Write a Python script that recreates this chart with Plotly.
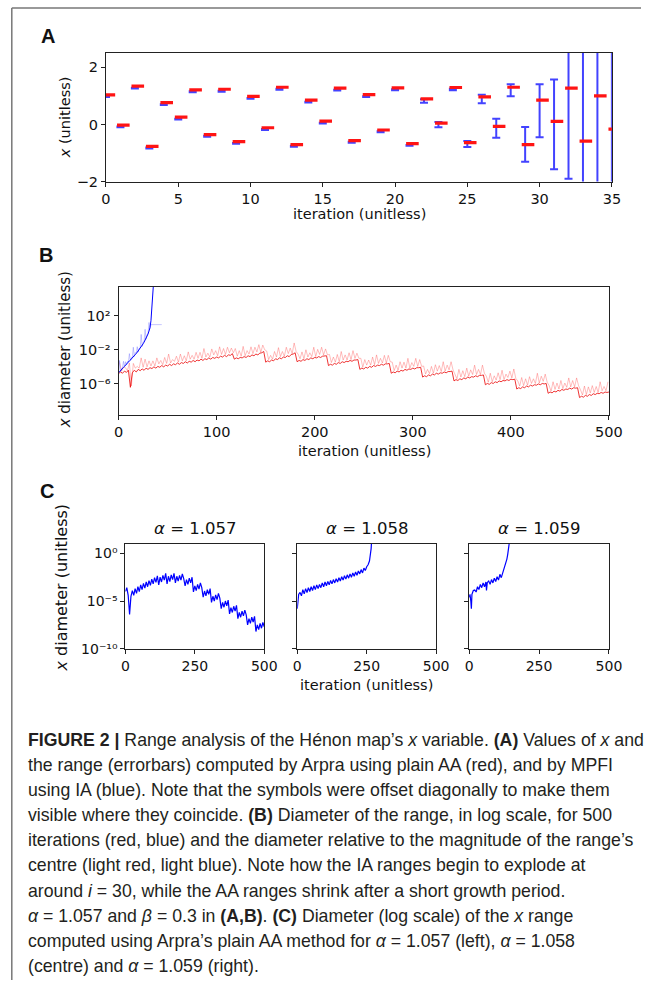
import plotly.graph_objects as go

W, H = 655, 988

# ---------------- data ----------------
# Panel A: x value per iteration (AA, red) and IA bounds (blue)
A_ITER = list(range(36))
A_AA_X = [0.97, -0.09, 1.28, -0.83, 0.70, 0.19, 1.15, -0.42, 1.17, -0.67, 0.92, -0.18, 1.24, -0.77,
          0.79, 0.05, 1.21, -0.63, 0.98, -0.26, 1.22, -0.74, 0.83, -0.02, 1.23, -0.70, 0.90, -0.13,
          1.24, -0.77, 0.79, 0.04, 1.21, -0.65, 0.94, -0.23]
A_IA_LO = [0.96, -0.10, 1.26, -0.84, 0.68, 0.17, 1.13, -0.43, 1.15, -0.68, 0.90, -0.19, 1.22, -0.78,
           0.77, 0.03, 1.19, -0.64, 0.96, -0.27, 1.20, -0.75, 0.76, -0.10, 1.20, -0.79, 0.74, -0.47,
           0.99, -1.31, -0.45, -1.57, -1.90, -20.0, -20.0, -20.0]
A_IA_HI = [0.98, -0.07, 1.29, -0.81, 0.71, 0.20, 1.16, -0.40, 1.18, -0.65, 0.93, -0.16, 1.25, -0.75,
           0.80, 0.06, 1.22, -0.61, 0.99, -0.24, 1.23, -0.72, 0.88, 0.09, 1.25, -0.58, 1.04, 0.20,
           1.41, -0.09, 1.41, 1.58, 6.0, 20.0, 20.0, 20.0]
A_XTICKS = [0, 5, 10, 15, 20, 25, 30, 35]
A_YTICKS = [-2, 0, 2]
A_YTICKTEXT = ["\u22122", "0", "2"]

# Panel B: log10 of range diameter
B_AA_ITER = list(range(0, 501, 2))
B_AA_LOG = [
    -4.8, -4.6, -4.75, -4.5, -4.65, -4.4, -6.4, -4.7, -4.4, -4.6,
    -4.3, -4.45, -4.25, -4.4, -4.15, -4.3, -4.1, -4.2, -4.0, -4.15,
    -3.95, -4.05, -3.85, -4.0, -3.8, -3.9, -3.7, -3.85, -3.65, -3.75,
    -3.55, -3.7, -3.5, -3.6, -3.4, -3.55, -3.35, -3.45, -3.25, -3.4,
    -3.2, -3.3, -3.1, -3.25, -3.05, -3.15, -2.95, -3.1, -2.9, -3.0,
    -2.85, -2.95, -2.75, -2.85, -2.65, -2.8, -2.6, -2.65, -2.45,
    -3.1, -2.95, -3.05, -2.9, -2.95, -2.8, -2.9, -2.7, -2.8, -2.6, -2.7, -2.5, -2.6, -2.4, -2.35, -2.2,
    -3.45, -3.3, -3.4, -3.2, -3.3, -3.05, -3.15, -2.95, -3.05, -2.85, -2.9, -2.7, -2.8, -2.55, -2.5, -2.35,
    -3.4, -3.25, -3.35, -3.15, -3.25, -3.05, -3.15, -2.95, -3.05, -2.9, -2.95, -2.8, -2.9, -2.75, -2.75, -2.7,
    -3.85, -3.7, -3.8, -3.6, -3.7, -3.5, -3.6, -3.4, -3.5, -3.35, -3.4, -3.25, -3.35, -3.2, -3.2, -3.15,
    -4.3, -4.15, -4.25, -4.05, -4.15, -3.95, -4.05, -3.85, -3.95, -3.8, -3.85, -3.7, -3.8, -3.65, -3.65, -3.6,
    -4.75, -4.6, -4.7, -4.5, -4.6, -4.4, -4.5, -4.3, -4.4, -4.25, -4.3, -4.15, -4.25, -4.1, -4.1, -4.05,
    -5.2, -5.05, -5.15, -4.95, -5.05, -4.85, -4.95, -4.75, -4.85, -4.7, -4.75, -4.6, -4.7, -4.55, -4.55, -4.5,
    -5.65, -5.5, -5.6, -5.4, -5.5, -5.3, -5.4, -5.2, -5.3, -5.15, -5.2, -5.05, -5.15, -5.0, -5.0, -4.95,
    -6.1, -5.95, -6.05, -5.85, -5.95, -5.75, -5.85, -5.65, -5.75, -5.6, -5.65, -5.5, -5.6, -5.45, -5.5, -5.45,
    -6.6, -6.45, -6.55, -6.35, -6.45, -6.25, -6.35, -6.15, -6.25, -6.1, -6.15, -6.0, -6.1, -5.95, -6.0, -5.95,
    -7.1, -6.95, -7.05, -6.85, -6.95, -6.75, -6.85, -6.65, -6.75, -6.6, -6.65, -6.5, -6.6, -6.45, -6.5, -6.45,
    -7.6, -7.45, -7.55, -7.35, -7.45, -7.25, -7.35, -7.15, -7.25, -7.1, -7.15, -7.0, -7.1, -6.95, -7.0, -6.95,
]
# relative diameter (light red) at odd iterations: decades above the AA diameter
B_AA_REL_ITER = list(range(1, 500, 2))
B_AA_REL_OFFSET = [
    1.3, 0.1, 0.7, 0.4, 0.2, 0.85, 0.15, 1.1, 0.25, 0.65,
    0.15, 1.5, 0.2, 1.3, 0.15, 1.0, 0.2, 0.9, 0.1, 1.2,
    0.3, 0.8, 0.1, 1.1, 0.2, 1.4, 0.15, 0.7, 0.3, 1.0,
    0.1, 1.2, 0.2, 0.9, 0.1, 1.3, 0.25, 0.8, 0.15, 1.1,
    0.2, 1.0, 0.1, 1.4, 0.2, 0.75, 0.1, 1.2, 0.3, 0.9,
    0.15, 1.3, 0.2, 1.0, 0.1, 1.1, 0.25, 0.85, 0.1, 1.25,
    0.2, 0.95, 0.15, 1.35, 0.1, 0.8, 0.2, 1.15, 0.15, 1.0,
    0.25, 1.2, 0.1, 0.9, 0.2, 1.3, 0.15, 0.75, 0.1, 1.1,
    0.2, 1.4, 0.15, 0.85, 0.1, 1.2, 0.25, 1.0, 0.1, 1.3,
    0.15, 0.9, 0.2, 1.1, 0.1, 1.25, 0.2, 0.8, 0.15, 1.35,
    0.1, 1.0, 0.25, 1.2, 0.15, 0.85, 0.1, 1.3, 0.2, 0.95,
    0.15, 1.15, 0.1, 1.4, 0.2, 0.9, 0.15, 1.05, 0.1, 1.25,
    0.2, 0.8, 0.15, 1.3, 0.1, 1.1, 0.25, 0.95, 0.15, 1.2,
    0.1, 1.35, 0.2, 0.85, 0.15, 1.15, 0.1, 1.0, 0.2, 1.3,
    0.15, 0.9, 0.1, 1.2, 0.25, 1.05, 0.15, 1.4, 0.1, 0.8,
    0.2, 1.25, 0.15, 0.95, 0.1, 1.3, 0.2, 0.85, 0.15, 1.1,
    0.1, 1.2, 0.25, 1.0, 0.15, 1.35, 0.1, 0.9, 0.2, 1.15,
    0.15, 0.8, 0.1, 1.3, 0.2, 1.05, 0.15, 1.25, 0.1, 0.95,
    0.25, 1.4, 0.15, 0.85, 0.1, 1.2, 0.2, 1.0, 0.15, 1.3,
    0.1, 0.9, 0.2, 1.15, 0.15, 1.35, 0.1, 0.8, 0.25, 1.1,
    0.15, 1.25, 0.1, 0.95, 0.2, 1.3, 0.15, 1.05, 0.1, 1.2,
    0.2, 0.85, 0.15, 1.4, 0.1, 1.0, 0.25, 1.15, 0.15, 0.9,
    0.1, 1.3, 0.2, 1.05, 0.15, 1.25, 0.1, 0.85, 0.2, 1.35,
    0.15, 1.0, 0.1, 1.2, 0.25, 0.9, 0.15, 1.3, 0.1, 1.1,
    0.2, 1.15, 0.15, 0.95, 0.1, 1.4, 0.2, 0.8, 0.15, 1.25,
]
B_IA_ITER = list(range(37))
B_IA_LOG = [-4.7, -4.55, -4.45, -4.3, -4.2, -4.05, -3.95, -3.8, -3.7, -3.55, -3.45, -3.3, -3.2,
            -3.05, -2.95, -2.8, -2.7, -2.55, -2.45, -2.3, -2.15, -2.0, -1.85, -1.7, -1.5, -1.3,
            -1.1, -0.9, -0.65, -0.4, -0.15, 0.2, 0.6, 1.4, 2.8, 4.6, 6.5]
B_IA_REL_OFFSET = [0.0, 1.3, -0.11, 0.1, 0.14, 0.7, -0.07, 0.4, -0.08, 0.2, 0.02, 0.85, -0.11,
                   0.14, 0.09, 1.1, -0.09, 0.23, 0.0, 0.66, -0.1, 0.15, 0.07, 1.5, -0.1, 0.19,
                   0.04, 1.3, -0.11, 0.15, 0.07, 1.0, -0.1]
B_IA_REL_FLAT_ITER = [33, 44]
B_IA_REL_FLAT_LOG = [0.95, 0.95]
B_XTICKS = [0, 100, 200, 300, 400, 500]
B_YTICKS_EXP = [-6, -2, 2]

# Panel C: log10 diameter for three alpha values
C_ALPHAS = ["1.057", "1.058", "1.059"]
C1_ITER = list(range(0, 501, 5))
C1_LOG = [
    -4.0, -3.6, -4.4, -6.4, -4.5, -3.9, -4.4, -3.7, -4.2, -3.5,
    -4.0, -3.3, -3.8, -3.15, -3.65, -3.0, -3.5, -2.85, -3.35, -2.7,
    -3.2, -2.55, -3.05, -2.35, -3.3, -2.5, -3.0, -2.3, -2.8, -2.1,
    -3.2, -2.4, -2.95, -2.25, -2.75, -2.1, -3.1, -2.4, -2.9, -2.3,
    -2.8, -2.15, -2.65, -3.4, -2.75, -3.25, -2.6, -3.1, -2.5, -4.05,
    -3.4, -3.9, -3.25, -3.75, -3.1, -3.6, -4.6, -3.95, -4.45, -3.8,
    -4.3, -3.7, -5.15, -4.5, -5.0, -4.35, -4.85, -4.2, -4.7, -5.8,
    -5.15, -5.65, -5.0, -5.5, -4.9, -6.35, -5.7, -6.2, -5.55, -6.05,
    -5.45, -6.85, -6.2, -6.7, -6.05, -6.55, -5.95, -6.45, -7.5, -6.85,
    -7.35, -6.7, -7.2, -6.6, -8.2, -7.5, -8.0, -7.35, -7.85, -7.25,
    -7.7,
]
C2_ITER = list(range(0, 261, 5)) + [263, 266, 268]
C2_LOG = [
    -5.8, -4.3, -4.1, -4.45, -3.8, -4.25, -3.7, -4.1, -3.6, -4.0,
    -3.5, -3.9, -3.4, -3.8, -3.3, -3.7, -3.25, -3.6, -3.1, -3.5,
    -3.0, -3.4, -2.95, -3.3, -2.85, -3.2, -2.75, -3.1, -2.65, -3.0,
    -2.55, -2.9, -2.45, -2.8, -2.35, -2.7, -2.25, -2.6, -2.15, -2.5,
    -2.05, -2.4, -1.95, -2.3, -1.85, -2.15, -1.7, -2.05, -1.55, -1.8,
    -1.4, -1.2, -0.8, -0.3, 0.5, 1.5,
]
C3_ITER = [0, 3, 6, 8, 10, 15, 20, 25, 30, 35, 40, 45, 50, 55, 60, 62, 65, 70, 75, 80, 85,
           90, 95, 100, 105, 110, 115, 120, 125, 130, 135, 138, 141, 144]
C3_LOG = [-4.6, -4.3, -5.0, -5.8, -4.3, -3.9, -3.85, -4.05, -3.5, -3.8, -3.25, -3.6, -3.1,
          -3.5, -3.0, -3.9, -3.05, -2.9, -3.25, -2.75, -3.1, -2.6, -2.95, -2.45, -2.8, -2.2,
          -2.55, -2.05, -1.7, -1.3, -0.6, -0.1, 0.5, 1.2]
C_XTICKS = [0, 250, 500]
C_YTICKS_EXP = [0, -5, -10]

CAPTION_LINES = [
    "<b>FIGURE 2 |</b> Range analysis of the Hénon map\u2019s <i>x</i> variable. <b>(A)</b> Values of <i>x</i> and",
    "the range (errorbars) computed by Arpra using plain AA (red), and by MPFI",
    "using IA (blue). Note that the symbols were offset diagonally to make them",
    "visible where they coincide. <b>(B)</b> Diameter of the range, in log scale, for 500",
    "iterations (red, blue) and the diameter relative to the magnitude of the range\u2019s",
    "centre (light red, light blue). Note how the IA ranges begin to explode at",
    "around <i>i</i> = 30, while the AA ranges shrink after a short growth period.",
    "<i>\u03b1</i> = 1.057 and <i>\u03b2</i> = 0.3 in <b>(A,B)</b>. <b>(C)</b> Diameter (log scale) of the <i>x</i> range",
    "computed using Arpra\u2019s plain AA method for <i>\u03b1</i> = 1.057 (left), <i>\u03b1</i> = 1.058",
    "(centre) and <i>\u03b1</i> = 1.059 (right).",
]

# ---------------- style ----------------
AA_DX, AA_DY = 0.2, 0.065
TICK_FONT = dict(family="DejaVu Sans", size=14.5, color="#111")
C_TICK_FONT = dict(family="DejaVu Sans", size=14, color="#111")
LABEL_FONT = dict(family="DejaVu Sans", size=14.5, color="#111")
AXCOL = "#222"
SUP = str.maketrans("-0123456789", "\u207b\u2070\u00b9\u00b2\u00b3\u2074\u2075\u2076\u2077\u2078\u2079")


def px(xp):
    return xp / W


def py(yp):
    return 1 - yp / H


def ax_style(**kw):
    d = dict(showline=True, mirror=True, linecolor=AXCOL, linewidth=1.1, ticks="outside",
             ticklen=4, tickwidth=1, tickcolor=AXCOL, showgrid=False, zeroline=False,
             tickfont=TICK_FONT)
    d.update(kw)
    return d


def sup(e):
    return "10" + str(e).translate(SUP)


fig = go.Figure()

# ---- Panel A ----
ia_mid = [(lo + hi) / 2 for lo, hi in zip(A_IA_LO, A_IA_HI)]
fig.add_trace(go.Scatter(
    x=A_ITER, y=ia_mid, mode="markers", xaxis="x", yaxis="y",
    marker=dict(size=1, color="rgba(0,0,0,0)"),
    error_y=dict(type="data", symmetric=False,
                 array=[hi - m for hi, m in zip(A_IA_HI, ia_mid)],
                 arrayminus=[m - lo for lo, m in zip(A_IA_LO, ia_mid)],
                 color="rgba(20,20,255,0.8)", thickness=2, width=4),
))
fig.add_trace(go.Scatter(
    x=[i + AA_DX for i in A_ITER], y=[v + AA_DY for v in A_AA_X], mode="markers",
    xaxis="x", yaxis="y",
    marker=dict(symbol="line-ew", size=9, line=dict(width=3.2, color="rgb(255,20,20)")),
))

# ---- Panel B ----
aa_rel = [B_AA_LOG[k] + off for k, off in enumerate(B_AA_REL_OFFSET)]
fig.add_trace(go.Scatter(x=B_AA_REL_ITER, y=[10 ** v for v in aa_rel], mode="lines",
                         xaxis="x2", yaxis="y2",
                         line=dict(color="rgba(255,70,70,0.45)", width=0.8)))
ia_rel = [B_IA_LOG[k] + off for k, off in enumerate(B_IA_REL_OFFSET)]
fig.add_trace(go.Scatter(x=B_IA_ITER[:len(ia_rel)] + B_IA_REL_FLAT_ITER,
                         y=[10 ** v for v in ia_rel + B_IA_REL_FLAT_LOG], mode="lines",
                         xaxis="x2", yaxis="y2",
                         line=dict(color="rgba(80,80,255,0.4)", width=0.8)))
fig.add_trace(go.Scatter(x=B_AA_ITER, y=[10 ** v for v in B_AA_LOG], mode="lines",
                         xaxis="x2", yaxis="y2",
                         line=dict(color="rgb(235,0,0)", width=0.8)))
fig.add_trace(go.Scatter(x=B_IA_ITER, y=[10 ** v for v in B_IA_LOG], mode="lines",
                         xaxis="x2", yaxis="y2",
                         line=dict(color="rgb(0,0,255)", width=1)))

# ---- Panel C ----
for k, (it, lg) in enumerate([(C1_ITER, C1_LOG), (C2_ITER, C2_LOG), (C3_ITER, C3_LOG)]):
    n = k + 3
    fig.add_trace(go.Scatter(x=it, y=[10 ** v for v in lg], mode="lines",
                             xaxis=f"x{n}", yaxis=f"y{n}",
                             line=dict(color="rgb(0,0,255)", width=1.2)))

layout = dict(
    width=W, height=H, margin=dict(l=0, r=0, t=0, b=0),
    paper_bgcolor="white", plot_bgcolor="white", showlegend=False,
    xaxis=ax_style(domain=[px(104), px(625)], anchor="y", range=[0, 35], tickvals=A_XTICKS),
    yaxis=ax_style(domain=[py(183), py(53)], anchor="x", range=[-2, 2.52],
                   tickvals=A_YTICKS, ticktext=A_YTICKTEXT),
    xaxis2=ax_style(domain=[px(117), px(622)], anchor="y2", range=[0, 500], tickvals=B_XTICKS),
    yaxis2=ax_style(domain=[py(418), py(289)], anchor="x2", type="log", range=[-9.6, 5.4],
                    tickvals=[10 ** e for e in B_YTICKS_EXP],
                    ticktext=[sup(e) for e in B_YTICKS_EXP]),
)
c_dom = [(124, 267), (301, 444), (478, 622)]
for k, (a, b) in enumerate(c_dom):
    n = k + 3
    layout[f"xaxis{n}"] = ax_style(domain=[px(a), px(b)], anchor=f"y{n}", range=[0, 500],
                                   tickvals=C_XTICKS, tickfont=C_TICK_FONT)
    layout[f"yaxis{n}"] = ax_style(domain=[py(654), py(548)], anchor=f"x{n}", type="log",
                                   range=[-10, 1.03],
                                   tickvals=[10 ** e for e in C_YTICKS_EXP],
                                   ticktext=[sup(e) for e in C_YTICKS_EXP],
                                   showticklabels=(k == 0), tickfont=C_TICK_FONT)
fig.update_layout(**layout)

ann = []


def add_text(text, x, y, font, angle=0, xanchor="center"):
    ann.append(dict(text=text, x=px(x), y=py(y), xref="paper", yref="paper", showarrow=False,
                    xanchor=xanchor, yanchor="middle", textangle=angle, font=font))


LETTER_FONT = dict(family="Liberation Sans, Arial", size=20, color="#111")
add_text("<b>A</b>", 44, 36, LETTER_FONT)
add_text("<b>B</b>", 42, 257, LETTER_FONT)
add_text("<b>C</b>", 43, 495, LETTER_FONT)

add_text("<i>x</i> (unitless)", 62, 118, LABEL_FONT, angle=-90)
add_text("iteration (unitless)", 365, 216, LABEL_FONT)
add_text("<i>x</i> diameter (unitless)", 62, 353, dict(LABEL_FONT, size=15), angle=-90)
add_text("iteration (unitless)", 370, 455, LABEL_FONT)
add_text("<i>x</i> diameter (unitless)", 58, 592, dict(LABEL_FONT, size=16), angle=-90)
add_text("iteration (unitless)", 372, 691, LABEL_FONT)
for (a, b), al in zip(c_dom, C_ALPHAS):
    add_text(f"<i>\u03b1</i> = {al}", (a + b) / 2, 533,
             dict(family="DejaVu Sans", size=16.5, color="#111"))

CAP_FONT = dict(family="Liberation Sans, Arial", size=17.7, color="#231f20")
cap_y0, cap_dy = 746, 25.3
for k, line in enumerate(CAPTION_LINES):
    add_text(line, 22, cap_y0 + k * cap_dy, CAP_FONT, xanchor="left")

fig.update_layout(annotations=ann)

# figure frame (top and left rules)
fig.update_layout(shapes=[
    dict(type="line", xref="paper", yref="paper", x0=px(7), x1=1, y0=py(8), y1=py(8),
         line=dict(color="#777", width=1.5)),
    dict(type="line", xref="paper", yref="paper", x0=px(7), x1=px(7), y0=0, y1=py(8),
         line=dict(color="#777", width=1.5)),
])

fig.write_html("out.html")
